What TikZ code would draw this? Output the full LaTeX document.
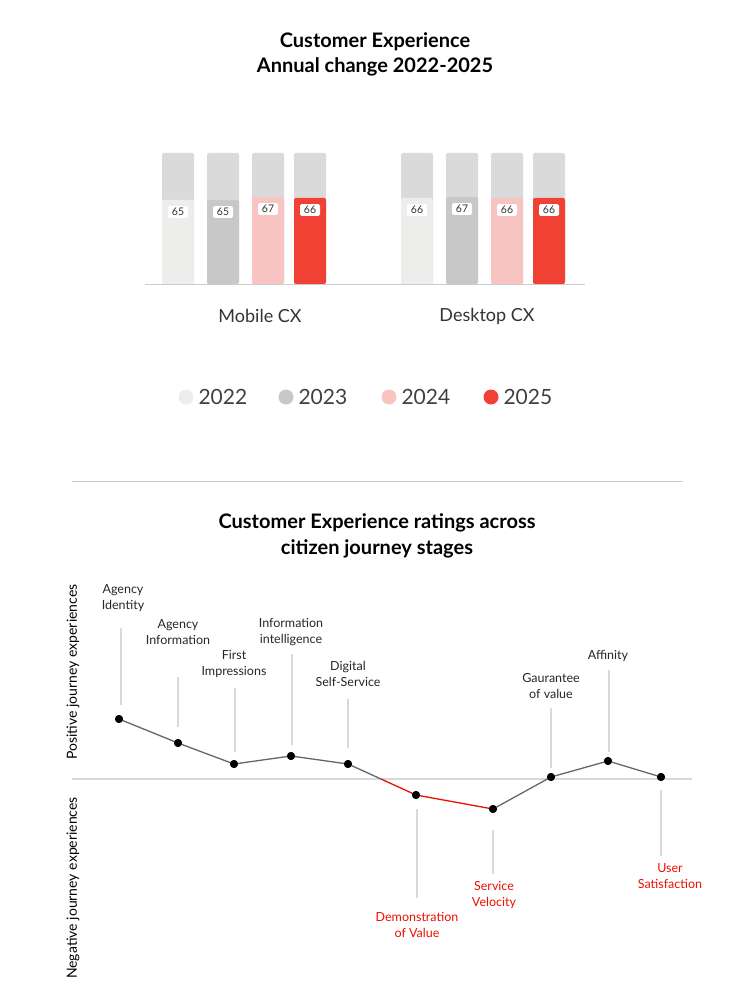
\documentclass[tikz,border=0pt]{standalone}
\usepackage{fontspec}
\setmainfont{Lato}
\begin{document}
\begin{tikzpicture}[x=1pt,y=-1pt,
  bg/.style={fill=barbg,rounded corners=2pt},
  val/.style={fill=white,rounded corners=1.5pt,inner sep=2pt,font=\fontsize{10.5}{11}\selectfont,text=black!80,minimum width=20pt},
  lab/.style={align=center,font=\fontsize{12.5}{16}\selectfont,text=black!85},
  rlab/.style={lab,text=cxred},
  stem/.style={draw=black!15,line width=1.2pt},
  pt/.style={circle,fill=black,inner sep=0pt,minimum size=8pt},
  seg/.style={draw=black!60,line width=1.3pt},
  rseg/.style={draw=cxred,line width=1.3pt}]
\definecolor{barbg}{HTML}{DADADA}
\definecolor{c22}{HTML}{EDEDEB}
\definecolor{c23}{HTML}{C8C8C8}
\definecolor{c24}{HTML}{F8C4C2}
\definecolor{c25}{HTML}{F04134}
\definecolor{cxred}{HTML}{EB1000}
\useasboundingbox (0,0) rectangle (750,1000);
\node[font=\fontsize{20}{25}\selectfont\bfseries,align=center] (t1) at (375,54) {Customer Experience\\Annual change 2022-2025};
% bars
\foreach \x/\c/\t/\v [count=\i] in {162/c22/200/65,207/c23/200/65,252/c24/197/67,294/c25/198/66,401/c22/198/66,446/c23/197/67,491/c24/198/66,533/c25/198/66}{
  \fill[bg] (\x,153) rectangle ++(32,131);
  \fill[\c,rounded corners=2pt] (\x,\t) rectangle (\x+32,284);
  \node[val] (v\i) at (\x+16,\t+12) {\v};
}
\draw[black!20,line width=1pt] (145,284) -- (585,284);
\node[font=\fontsize{18}{20}\selectfont,text=black!80] (g1) at (260,316) {Mobile CX};
\node[font=\fontsize{18}{20}\selectfont,text=black!80] (g2) at (487,316) {Desktop CX};
\foreach \x/\c/\y [count=\i] in {186/c22/2022,286/c23/2023,389/c24/2024,491/c25/2025}{
  \node[circle,fill=\c,inner sep=0pt,minimum size=15pt] (d\i) at (\x,397) {};
  \node[anchor=west,font=\fontsize{21}{24}\selectfont,text=black!75] (l\i) at (\x+9,397) {\y};
}
\draw[black!20,line width=0.8pt] (72,481) -- (683,481);
\node[font=\fontsize{20}{26}\selectfont\bfseries,align=center] (t2) at (377,536) {Customer Experience ratings across\\citizen journey stages};
% axis
\draw[black!15,line width=1.2pt] (72,779) -- (692,779);
\node[rotate=90,font=\fontsize{14}{16}\selectfont] (ya) at (73,672) {Positive journey experiences};
\node[rotate=90,font=\fontsize{14}{16}\selectfont] (yb) at (73,888) {Negative journey experiences};
% points
\node[pt] (p1) at (119,719) {};
\node[pt] (p2) at (178,743) {};
\node[pt] (p3) at (234,764) {};
\node[pt] (p4) at (291,756) {};
\node[pt] (p5) at (348,764) {};
\node[pt] (p6) at (416,795) {};
\node[pt] (p7) at (493,809) {};
\node[pt] (p8) at (551,777) {};
\node[pt] (p9) at (608,761) {};
\node[pt] (p10) at (661,777) {};
\coordinate (cr) at (381,779);
% labels
\node[lab] (a1) at (123,598) {Agency\\Identity};
\node[lab] (a2) at (178,632) {Agency\\Information};
\node[lab] (a3) at (234,664) {First\\Impressions};
\node[lab] (a4) at (291,632) {Information\\intelligence};
\node[lab] (a5) at (348,674) {Digital\\Self-Service};
\node[rlab] (a6) at (417,925) {Demonstration\\of Value};
\node[rlab] (a7) at (494,895) {Service\\Velocity};
\node[lab] (a8) at (551,686) {Gaurantee\\of value};
\node[lab] (a9) at (608,656) {Affinity};
\node[rlab] (a10) at (670,876) {User\\Satisfaction};
% stems
\draw[stem] (121,628) -- (121,705);
\draw[stem] (178,677) -- (178,727);
\draw[stem] (235,688) -- (235,752);
\draw[stem] (292,654) -- (292,745);
\draw[stem] (348,699) -- (348,748);
\draw[stem] (417,809) -- (417,898);
\draw[stem] (493,830) -- (493,874);
\draw[stem] (551,708) -- (551,768);
\draw[stem] (609,670) -- (609,752);
\draw[stem] (661,790) -- (661,856);
% line
\draw[seg] (p1.center) -- (p2.center) -- (p3.center) -- (p4.center) -- (p5.center) -- (cr);
\draw[rseg] (cr) -- (p6.center) -- (p7.center);
\draw[seg] (p7.center) -- (p8.center) -- (p9.center) -- (p10.center);
\foreach \i in {1,...,10} \fill (p\i) circle (4pt);
\end{tikzpicture}
\end{document}
